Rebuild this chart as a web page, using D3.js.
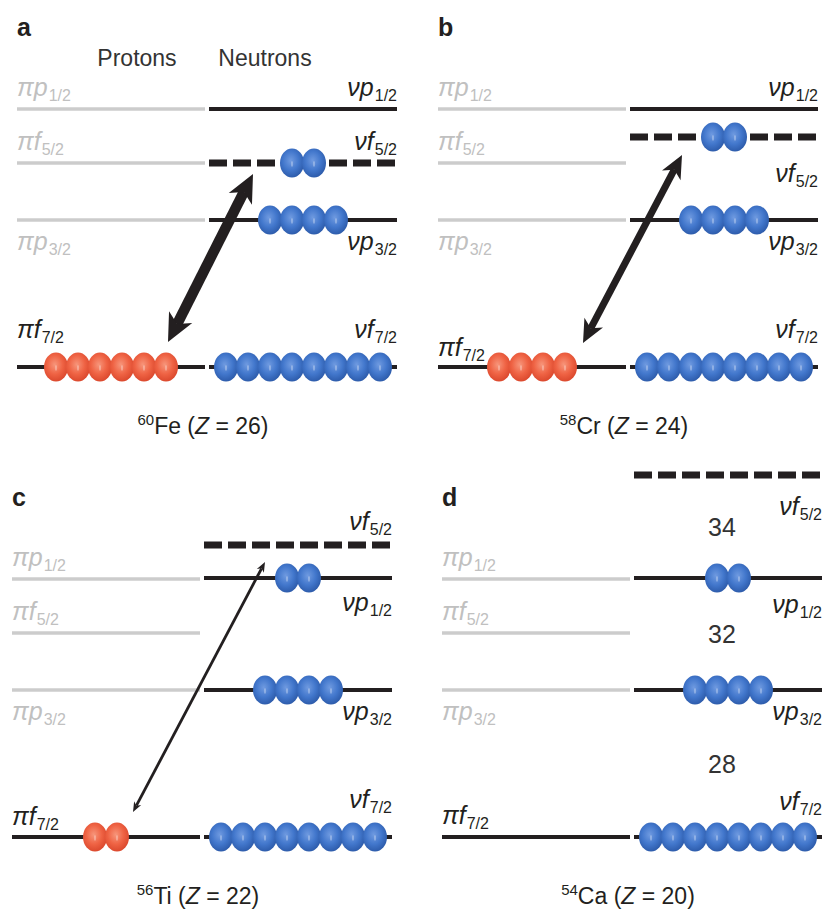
<!DOCTYPE html>
<html><head><meta charset="utf-8">
<script src="https://cdn.jsdelivr.net/npm/d3@7"></script>
<style>body{margin:0;background:#fff}svg{display:block}text{font-family:"Liberation Sans",Arial,Helvetica,sans-serif}</style>
</head><body><script>
// ---------------- data ----------------
const panelLetters = ['a','b','c','d'];
const massNumbers = [60,58,56,54];
const elementSymbols = ['Fe','Cr','Ti','Ca'];
const protonNumbers = [26,24,22,20];
// orbitals in order of increasing (schematic) energy
const orbitalLetters = ['f','p','f','p'];
const orbitalJ = ['7/2','3/2','5/2','1/2'];
// schematic single-particle energies (arbitrary units above f7/2)
const protonEnergies = [0,147,204,258];
const neutronEnergiesF72 = [0,0,0,0];
const neutronEnergiesP32 = [147,147,147,147];
const neutronEnergiesF52 = [204,230,292,362];
const neutronEnergiesP12 = [258,258,259,259];
// occupancies
const protonOccF72 = [6,4,2,0];
const neutronOccF72 = [8,8,8,8];
const neutronOccP32 = [4,4,4,4];
const neutronOccF52 = [2,2,0,0];
const neutronOccP12 = [0,0,2,2];
// shell gaps (panel d)
const shellGapLabels = ['28','32','34'];
// transitions (tensor-force arrows)
const transitionPanels = [0,1,2];
const transitionLower = ['πf7/2','πf7/2','πf7/2'];
const transitionUpper = ['νf5/2','νf5/2','νf5/2'];

// ---------------- layout ----------------
const W = 833, H = 913;
const panelX = [17,438,12,442];
const rowBase = [367,367,837,837];
const lineLen = 188, nGap = 4;
const ballStep = 22, ballRx = 12, ballRy = 14.5;
const black = '#231f20', grey = '#cccccc', greyText = '#c0c0c0';
// label baseline offsets from level line (f7/2, p3/2, f5/2, p1/2)
const protonLabelDy = [[-29,30,-13,-13],[-11,30,-13,-13],[-12,30,-13,-13],[-13,30,-13,-13]];
const neutronLabelDy = [[-29,30,-13,-13],[-29,30,45,-13],[-29,30,-15,33],[-27,30,40,35]];
// arrow geometry: x offsets from panel start, y offset from levels
const arrowLowX = [151,145,121], arrowHighX = [236,244,253];
const arrowLowDy = [-25,-24,-25], arrowHighDy = [11,18,17];
const arrowShaft = [10.5,7,2.8], arrowHeadL = [28,23,10], arrowHeadW = [13,10.5,4];

const svg = d3.select('body').append('svg').attr('width',W).attr('height',H)
  .style('background','#fff');

const defs = svg.append('defs');
function grad(id, stops){
  const g = defs.append('radialGradient').attr('id',id).attr('cx','45%').attr('cy','42%').attr('r','60%');
  stops.forEach(([o,c])=>g.append('stop').attr('offset',o).attr('stop-color',c));
}
grad('gBlue',[['0%','#6f9ae0'],['55%','#4277cc'],['100%','#2c5aa9']]);
grad('gRed',[['0%','#f7957a'],['55%','#ef6344'],['100%','#da472c']]);

function drawLabel(g, x, yb, prefix, letter, j, anchor, color){
  const t = g.append('text').attr('x',x).attr('y',yb).attr('text-anchor',anchor)
    .attr('fill',color).attr('font-size',25);
  t.append('tspan').attr('font-style','italic').text(prefix + letter);
  t.append('tspan').attr('font-size',16).attr('dy',5).attr('dx',1).text(j);
}

function drawBalls(g, cx, cy, n, fill){
  if(!n) return;
  const xs = d3.scaleLinear().domain([0,n-1||1]).range([cx-(n-1)/2*ballStep, cx+(n-1)/2*ballStep]);
  const bg = g.append('g');
  d3.range(n).forEach(k=>{
    const x = n===1?cx:xs(k);
    bg.append('ellipse').attr('cx',x).attr('cy',cy).attr('rx',ballRx).attr('ry',ballRy)
      .attr('fill',`url(#${fill})`);
    bg.append('ellipse').attr('cx',x).attr('cy',cy+1).attr('rx',1.1).attr('ry',3)
      .attr('fill','#fff').attr('opacity',0.3);
  });
}

function drawArrow(g, x1,y1,x2,y2, w, hl, hw){
  const dx=x2-x1, dy=y2-y1, L=Math.hypot(dx,dy), ux=dx/L, uy=dy/L, nx=-uy, ny=ux;
  const notch = 0.72*hl;
  g.append('line').attr('x1',x1+ux*notch).attr('y1',y1+uy*notch)
    .attr('x2',x2-ux*notch).attr('y2',y2-uy*notch)
    .attr('stroke',black).attr('stroke-width',w);
  [[x2,y2,1],[x1,y1,-1]].forEach(([tx,ty,s])=>{
    const bx = tx - s*ux*hl, by = ty - s*uy*hl;
    const mx = tx - s*ux*notch, my = ty - s*uy*notch;
    g.append('path').attr('d',`M${tx},${ty}L${bx+nx*hw},${by+ny*hw}L${mx},${my}L${bx-nx*hw},${by-ny*hw}Z`)
      .attr('fill',black);
  });
}

panelLetters.forEach((letter,i)=>{
  const g = svg.append('g');
  const y = d3.scaleLinear().domain([0,400]).range([rowBase[i], rowBase[i]-400]);
  const p0 = panelX[i], p1 = p0+lineLen, n0 = p1+nGap, n1 = n0+lineLen;
  const pc = (p0+p1)/2, nc = (n0+n1)/2;

  // panel letter
  g.append('text').attr('x',p0).attr('y',rowBase[i]-331).attr('font-size',25)
    .attr('font-weight','bold').attr('fill',black).text(letter);

  // proton levels
  protonEnergies.forEach((e,k)=>{
    g.append('line').attr('x1',p0).attr('x2',p1).attr('y1',y(e)).attr('y2',y(e))
      .attr('stroke',k===0?black:grey).attr('stroke-width',k===0?4:3.5);
    drawLabel(g,p0,y(e)+protonLabelDy[i][k],'π',orbitalLetters[k],orbitalJ[k],'start',k===0?black:greyText);
  });

  // neutron levels
  const nE = [neutronEnergiesF72[i],neutronEnergiesP32[i],neutronEnergiesF52[i],neutronEnergiesP12[i]];
  const nOcc = [neutronOccF72[i],neutronOccP32[i],neutronOccF52[i],neutronOccP12[i]];
  nE.forEach((e,k)=>{
    const ln = g.append('line').attr('x1',n0).attr('x2',n1).attr('y1',y(e)).attr('y2',y(e))
      .attr('stroke',black);
    if(k===2) ln.attr('stroke-width',7).attr('stroke-dasharray','18,6');
    else ln.attr('stroke-width',4);
    drawLabel(g,n1,y(e)+neutronLabelDy[i][k],'ν',orbitalLetters[k],orbitalJ[k],'end',black);
  });

  // occupation balls
  drawBalls(g,pc,y(protonEnergies[0]),protonOccF72[i],'gRed');
  nE.forEach((e,k)=>drawBalls(g,nc,y(e),nOcc[k],'gBlue'));

  // caption
  const cap = g.append('text').attr('x',p0+186).attr('y',rowBase[i]+67).attr('text-anchor','middle')
    .attr('font-size',23).attr('fill',black);
  cap.append('tspan').attr('font-size',15).attr('dy',-9).text(massNumbers[i]);
  cap.append('tspan').attr('dy',9).text(elementSymbols[i]+' (');
  cap.append('tspan').attr('font-style','italic').text('Z');
  cap.append('tspan').text(' = '+protonNumbers[i]+')');

  // headers
  if(i===0){
    g.append('text').attr('x',p0+120).attr('y',66).attr('text-anchor','middle')
      .attr('font-size',23).attr('fill','#333').text('Protons');
    g.append('text').attr('x',p0+248).attr('y',66).attr('text-anchor','middle')
      .attr('font-size',23).attr('fill','#333').text('Neutrons');
  }

  // shell gaps
  if(i===3){
    const levels = [nE[0],nE[1],nE[3],nE[2]];
    shellGapLabels.forEach((s,k)=>{
      g.append('text').attr('x',nc-6).attr('y',y((levels[k]+levels[k+1])/2)+9)
        .attr('text-anchor','middle').attr('font-size',25).attr('fill','#333').text(s);
    });
  }

  // transitions
  const t = transitionPanels.indexOf(i);
  if(t>=0){
    const xl = p0+arrowLowX[t], yl = y(protonEnergies[0])+arrowLowDy[t];
    const xh = p0+arrowHighX[t], yh = y(neutronEnergiesF52[i])+arrowHighDy[t];
    drawArrow(g, xl,yl,xh,yh, arrowShaft[t], arrowHeadL[t], arrowHeadW[t]);
  }
});
</script></body></html>
